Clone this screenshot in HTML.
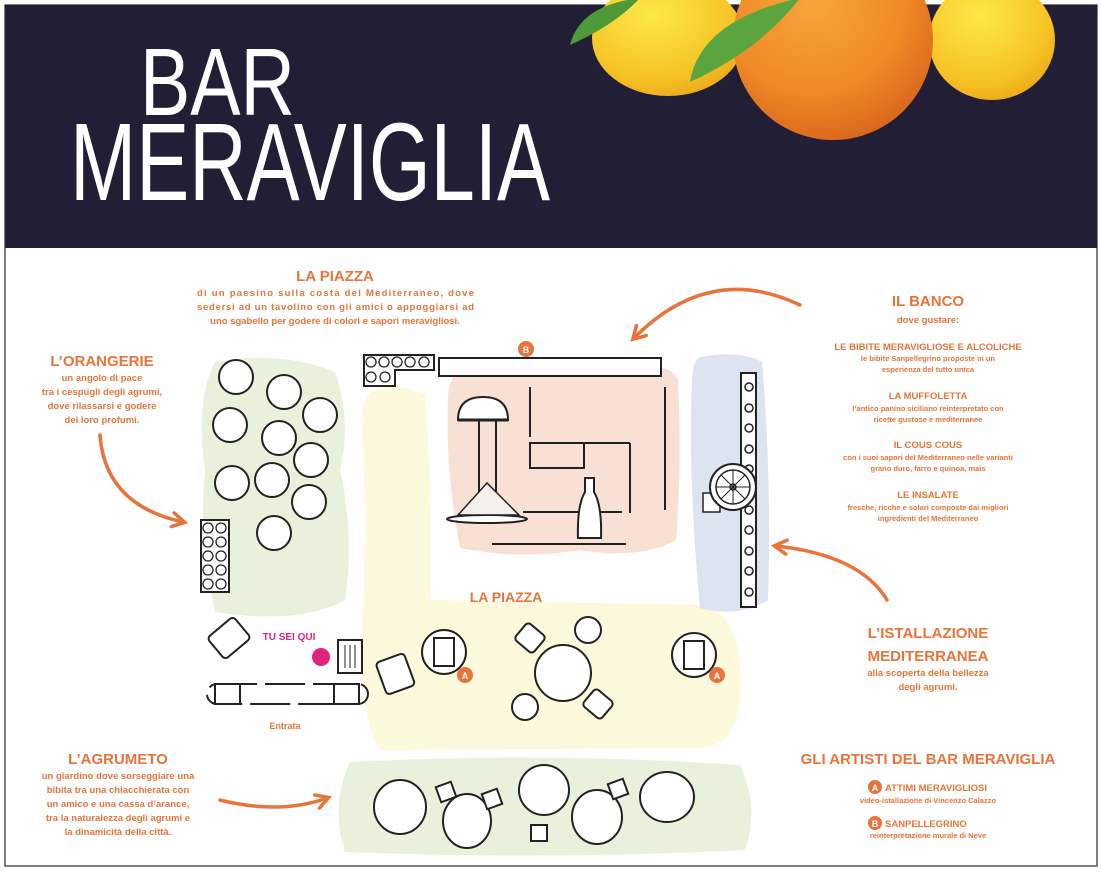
<!DOCTYPE html>
<html><head><meta charset="utf-8"><style>
html,body{margin:0;padding:0;background:#fff;width:1101px;height:873px;overflow:hidden}
svg{display:block}
text{font-family:"Liberation Sans",sans-serif;font-weight:bold;fill:#e8743b}
</style></head><body>
<svg width="1101" height="873" viewBox="0 0 1101 873" xmlns="http://www.w3.org/2000/svg">
<defs>
<radialGradient id="og" cx="0.4" cy="0.3" r="0.75"><stop offset="0" stop-color="#f7a53a"/><stop offset="0.6" stop-color="#f08a26"/><stop offset="1" stop-color="#d8641c"/></radialGradient>
<radialGradient id="lg" cx="0.4" cy="0.3" r="0.8"><stop offset="0" stop-color="#fde84a"/><stop offset="0.7" stop-color="#f6c223"/><stop offset="1" stop-color="#e9a118"/></radialGradient>
<marker id="ah" viewBox="0 0 10 10" refX="7" refY="5" markerWidth="5" markerHeight="5" orient="auto"><path d="M1,1 L8,5 L1,9" fill="none" stroke="#e8743b" stroke-width="2" stroke-linecap="round"/></marker>
</defs>
<rect x="5" y="5" width="1092" height="861" fill="#fff" stroke="#555" stroke-width="1.5"/>
<rect x="5" y="5" width="1092" height="243" fill="#211e36"/>
<!-- fruit -->
<ellipse cx="668" cy="38" rx="76" ry="58" fill="url(#lg)"/>
<ellipse cx="992" cy="40" rx="63" ry="60" fill="url(#lg)"/>
<circle cx="833" cy="40" r="100" fill="url(#og)"/>
<path d="M570,45 Q580,5 640,-2 Q615,25 570,45Z" fill="#4f9a38"/>
<path d="M690,82 Q700,20 800,-2 Q760,50 690,82Z" fill="#5aa53e"/>
<!-- title -->
<text x="140" y="115" font-size="96" textLength="155" lengthAdjust="spacingAndGlyphs" style="fill:#fff;font-weight:normal">BAR</text>
<text x="70" y="200" font-size="110" textLength="480" lengthAdjust="spacingAndGlyphs" style="fill:#fff;font-weight:normal">MERAVIGLIA</text>

<!-- map backgrounds -->
<path d="M215,362 Q280,350 335,372 Q352,420 340,470 Q355,540 345,600 Q300,625 215,612 Q198,540 205,470 Q195,400 215,362Z" fill="#e9f1dc"/>
<path d="M375,390 Q400,382 425,395 Q432,480 430,600 L700,605 Q745,612 740,700 Q735,752 690,748 L380,750 Q360,720 362,640 Q368,520 362,420 Q362,395 375,390Z" fill="#fdf9dc"/>
<path d="M460,372 Q550,355 620,370 Q670,360 678,380 Q682,470 676,540 Q640,560 580,550 Q520,560 460,548 Q445,470 448,400 Q448,378 460,372Z" fill="#f9e0d4"/>
<path d="M700,357 Q740,350 762,362 Q772,480 768,600 Q740,618 700,608 Q688,480 692,380 Q693,360 700,357Z" fill="#dde3ef"/>
<path d="M350,762 Q550,752 740,765 Q760,810 745,850 Q550,860 345,852 Q330,805 350,762Z" fill="#e9f1dc"/>

<g fill="#fff" stroke="#222" stroke-width="2">
<!-- orangerie trees -->
<circle cx="236" cy="377" r="17"/><circle cx="284" cy="392" r="17"/><circle cx="320" cy="415" r="17"/>
<circle cx="230" cy="425" r="17"/><circle cx="279" cy="438" r="17"/><circle cx="311" cy="460" r="17"/>
<circle cx="232" cy="483" r="17"/><circle cx="272" cy="480" r="17"/><circle cx="309" cy="502" r="17"/>
<circle cx="274" cy="533" r="17"/>
<!-- hedges -->
<rect x="201" y="520" width="28" height="72"/>
<path d="M364,355 L434,355 L434,370 L395,370 L395,386 L364,386Z"/>
</g>
<g fill="none" stroke="#222" stroke-width="1.3">
<circle cx="208" cy="528" r="5"/><circle cx="221" cy="528" r="5"/><circle cx="208" cy="542" r="5"/><circle cx="221" cy="542" r="5"/>
<circle cx="208" cy="556" r="5"/><circle cx="221" cy="556" r="5"/><circle cx="208" cy="570" r="5"/><circle cx="221" cy="570" r="5"/><circle cx="208" cy="584" r="5"/><circle cx="221" cy="584" r="5"/>
<circle cx="371" cy="362" r="5"/><circle cx="384" cy="362" r="5"/><circle cx="397" cy="362" r="5"/><circle cx="410" cy="362" r="5"/><circle cx="424" cy="362" r="5"/><circle cx="371" cy="377" r="5"/><circle cx="385" cy="377" r="5"/>
</g>
<!-- banco -->
<g fill="none" stroke="#222" stroke-width="2">
<rect x="439" y="358" width="222" height="18" fill="#fff"/>
<line x1="530" y1="387" x2="530" y2="437"/><line x1="665" y1="387" x2="665" y2="510"/>
<line x1="479" y1="420" x2="479" y2="520"/><line x1="496" y1="420" x2="496" y2="520"/>
<rect x="530" y="443" width="54" height="25"/><line x1="530" y1="443" x2="630" y2="443"/><line x1="630" y1="443" x2="630" y2="513"/>
<line x1="523" y1="512" x2="622" y2="512"/><line x1="492" y1="544" x2="626" y2="544"/>
</g>
<path d="M458,420 Q458,397 483,397 Q508,397 508,420Z" fill="#fff" stroke="#222" stroke-width="2"/>
<line x1="458" y1="420" x2="508" y2="420" stroke="#222" stroke-width="3"/>
<ellipse cx="487" cy="519" rx="40" ry="4" fill="#fff" stroke="#222" stroke-width="2"/>
<path d="M487,483 L458,515 L519,515Z" fill="#f3f0ec" stroke="#222" stroke-width="1.5"/>
<path d="M585,478 L594,478 L594,492 Q602,505 601,538 L578,538 Q577,505 585,492Z" fill="#fff" stroke="#222" stroke-width="2"/>
<!-- installazione -->
<rect x="741" y="373" width="15" height="234" fill="#fff" stroke="#222" stroke-width="2"/>
<g fill="#fff" stroke="#222" stroke-width="1.5">
<circle cx="749" cy="387" r="4"/><circle cx="749" cy="408" r="4"/><circle cx="749" cy="428" r="4"/><circle cx="749" cy="449" r="4"/><circle cx="749" cy="469" r="4"/><circle cx="749" cy="510" r="4"/><circle cx="749" cy="530" r="4"/><circle cx="749" cy="551" r="4"/><circle cx="749" cy="571" r="4"/><circle cx="749" cy="592" r="4"/>
<rect x="703" y="493" width="17" height="19"/>
<circle cx="733" cy="487" r="23" stroke-width="2"/><circle cx="733" cy="487" r="17"/><circle cx="733" cy="487" r="3"/>
<path d="M733,470 L733,504 M716,487 L750,487 M721,475 L745,499 M745,475 L721,499" stroke-width="1"/>
</g>
<!-- bottom-left furniture -->
<g fill="#fff" stroke="#222" stroke-width="2">
<rect x="212" y="624" width="34" height="28" rx="4" transform="rotate(-40 229 638)"/>
<rect x="338" y="640" width="24" height="33"/>
<path d="M345,645 V668 M350,645 V668 M355,645 V668" fill="none" stroke-width="1"/>
<rect x="207" y="684" width="161" height="20" rx="10" stroke-dasharray="40 8"/>
<rect x="215" y="684" width="25" height="20"/><rect x="334" y="684" width="25" height="20"/>
<rect x="380" y="657" width="30" height="34" rx="4" transform="rotate(-20 395 673)"/>
<circle cx="444" cy="652" r="22"/><rect x="434" y="638" width="20" height="28"/>
<circle cx="694" cy="655" r="22"/><rect x="684" y="641" width="20" height="28"/>
<circle cx="563" cy="673" r="28"/>
<rect x="518" y="627" width="24" height="22" rx="4" transform="rotate(40 530 638)"/>
<circle cx="588" cy="630" r="13"/><circle cx="525" cy="707" r="13"/>
<rect x="586" y="693" width="24" height="22" rx="4" transform="rotate(40 598 704)"/>
</g>
<circle cx="321" cy="657" r="9" fill="#e0237f"/>
<text x="289" y="640" font-size="10" text-anchor="middle" style="fill:#e0237f">TU SEI QUI</text>
<text x="285" y="729" font-size="9" text-anchor="middle">Entrata</text>
<!-- badges -->
<g font-size="9">
<circle cx="465" cy="675" r="8" fill="#e8743b"/><text x="465" y="679" text-anchor="middle" style="fill:#fff">A</text>
<circle cx="717" cy="675" r="8" fill="#e8743b"/><text x="717" y="679" text-anchor="middle" style="fill:#fff">A</text>
<circle cx="526" cy="349" r="8" fill="#e8743b"/><text x="526" y="353" text-anchor="middle" style="fill:#fff">B</text>
</g>
<!-- agrumeto -->
<g fill="#fff" stroke="#222" stroke-width="2">
<ellipse cx="400" cy="807" rx="26" ry="27"/><ellipse cx="467" cy="821" rx="24" ry="27"/><ellipse cx="544" cy="790" rx="25" ry="25"/><ellipse cx="597" cy="817" rx="25" ry="27"/><ellipse cx="667" cy="797" rx="27" ry="25"/>
<rect x="438" y="784" width="16" height="16" transform="rotate(-20 446 792)"/><rect x="484" y="791" width="16" height="16" transform="rotate(-20 492 799)"/><rect x="610" y="781" width="16" height="16" transform="rotate(-20 618 789)"/><rect x="531" y="825" width="16" height="16"/>
</g>
<!-- arrows -->
<g fill="none" stroke="#e8743b" stroke-width="3.5" stroke-linecap="round" marker-end="url(#ah)">
<path d="M100,435 Q105,505 183,522"/>
<path d="M800,305 Q710,262 634,338"/>
<path d="M887,600 Q860,555 776,546"/>
<path d="M220,800 Q280,815 327,798"/>
</g>
<!-- texts -->
<text x="335" y="281" font-size="15" text-anchor="middle">LA PIAZZA</text>
<g font-size="9.5">
<text x="197" y="296" textLength="277" lengthAdjust="spacing">di un paesino sulla costa del Mediterraneo, dove</text>
<text x="197" y="310" textLength="277" lengthAdjust="spacing">sedersi ad un tavolino con gli amici o appoggiarsi ad</text>
<text x="335" y="324" text-anchor="middle">uno sgabello per godere di colori e sapori meravigliosi.</text>
</g>
<text x="102" y="366" font-size="15" text-anchor="middle">L’ORANGERIE</text>
<g font-size="9.5" text-anchor="middle">
<text x="102" y="381">un angolo di pace</text>
<text x="102" y="395">tra i cespugli degli agrumi,</text>
<text x="102" y="409">dove rilassarsi e godere</text>
<text x="102" y="423">dei loro profumi.</text>
</g>
<text x="928" y="306" font-size="15" text-anchor="middle">IL BANCO</text>
<text x="928" y="323" font-size="9.5" text-anchor="middle">dove gustare:</text>
<g text-anchor="middle">
<text x="928" y="350" font-size="9.5">LE BIBITE MERAVIGLIOSE E ALCOLICHE</text>
<text x="928" y="361" font-size="7.5">le bibite Sanpellegrino proposte in un</text>
<text x="928" y="372" font-size="7.5">esperienza del tutto unica</text>
<text x="928" y="399" font-size="9.5">LA MUFFOLETTA</text>
<text x="928" y="411" font-size="7.5">l’antico panino siciliano reinterpretato con</text>
<text x="928" y="422" font-size="7.5">ricette gustose e mediterranee</text>
<text x="928" y="448" font-size="9.5">IL COUS COUS</text>
<text x="928" y="460" font-size="7.5">con i suoi sapori del Mediterraneo nelle varianti</text>
<text x="928" y="471" font-size="7.5">grano duro, farro e quinoa, mais</text>
<text x="928" y="498" font-size="9.5">LE INSALATE</text>
<text x="928" y="510" font-size="7.5">fresche, ricche e solari composte dai migliori</text>
<text x="928" y="521" font-size="7.5">ingredienti del Mediterraneo</text>
</g>
<text x="506" y="602" font-size="14" text-anchor="middle">LA PIAZZA</text>
<g text-anchor="middle">
<text x="928" y="638" font-size="15">L’ISTALLAZIONE</text>
<text x="928" y="661" font-size="15">MEDITERRANEA</text>
<text x="928" y="676" font-size="9.5">alla scoperta della bellezza</text>
<text x="928" y="690" font-size="9.5">degli agrumi.</text>
</g>
<text x="118" y="764" font-size="15" text-anchor="middle">L’AGRUMETO</text>
<g font-size="9.5" text-anchor="middle">
<text x="118" y="779">un giardino dove sorseggiare una</text>
<text x="118" y="793">bibita tra una chiacchierata con</text>
<text x="118" y="807">un amico e una cassa d’arance,</text>
<text x="118" y="821">tra la naturalezza degli agrumi e</text>
<text x="118" y="835">la dinamicità della città.</text>
</g>
<text x="928" y="764" font-size="15" text-anchor="middle">GLI ARTISTI DEL BAR MERAVIGLIA</text>
<circle cx="875" cy="787" r="7" fill="#e8743b"/><text x="875" y="791" font-size="9" text-anchor="middle" style="fill:#fff">A</text>
<text x="885" y="791" font-size="9.5">ATTIMI MERAVIGLIOSI</text>
<text x="928" y="803" font-size="7.5" text-anchor="middle">video-istallazione di Vincenzo Calazzo</text>
<circle cx="875" cy="823" r="7" fill="#e8743b"/><text x="875" y="827" font-size="9" text-anchor="middle" style="fill:#fff">B</text>
<text x="885" y="827" font-size="9.5">SANPELLEGRINO</text>
<text x="928" y="838" font-size="7.5" text-anchor="middle">reinterpretazione murale di Neve</text>
</svg>
</body></html>
